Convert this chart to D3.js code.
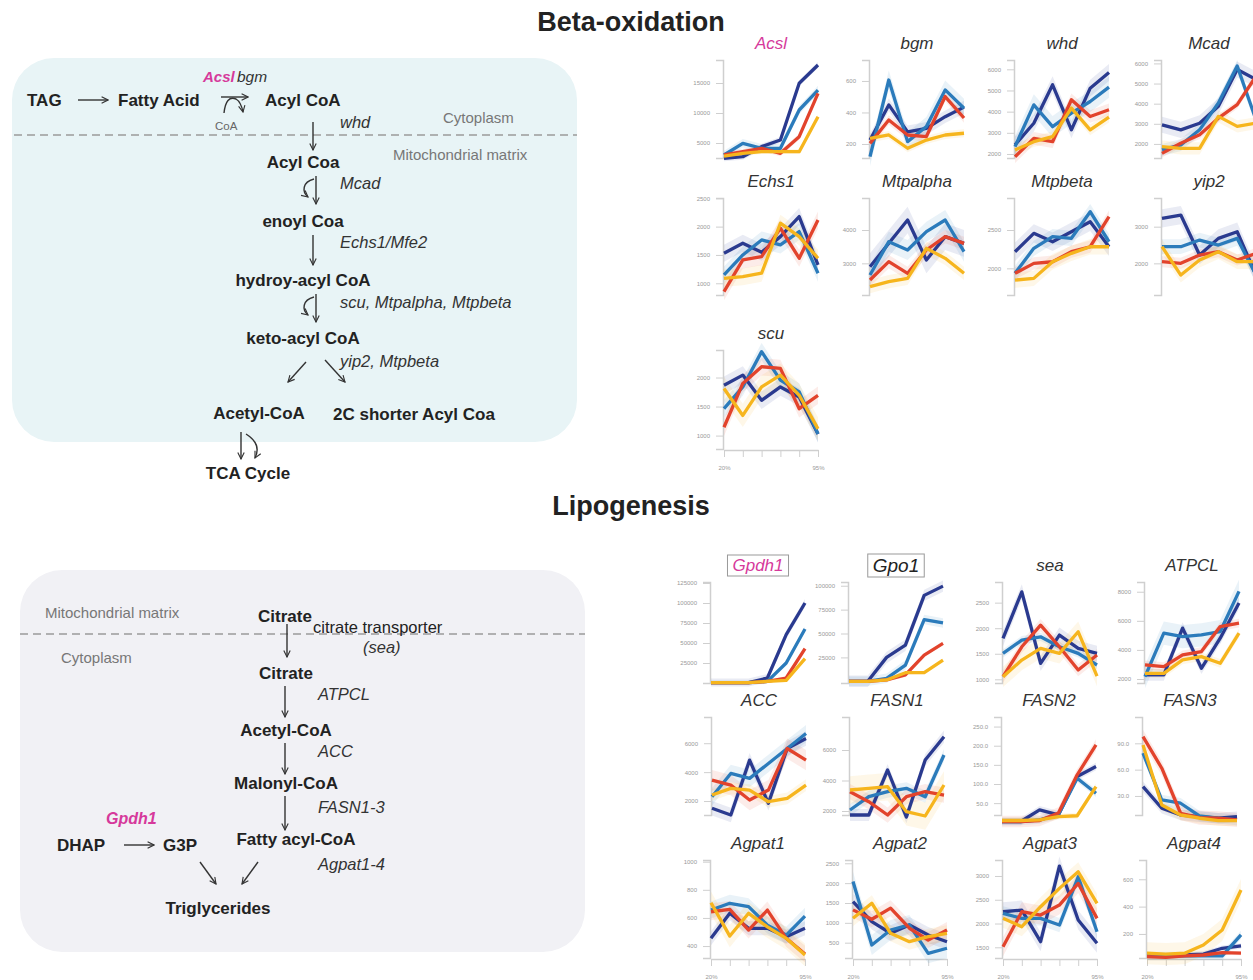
<!DOCTYPE html>
<html>
<head>
<meta charset="utf-8">
<script src="https://cdn.jsdelivr.net/npm/d3@7"></script>
<style>
  body { margin: 0; background: #fff; }
  svg text { font-family: "Liberation Sans", Arial, sans-serif; }
</style>
</head>
<body>
<div id="chart"></div>
<script>
// x categories (dose) and the four groups, colour per group
var doses = ['20%', '35%', '50%', '65%', '80%', '95%'];
var groups = ['g1', 'g2', 'g3', 'g4'];
var groupColors = ['#2a3a8f', '#2b7bbb', '#e2432c', '#f6b51d'];

// each gene: rows = groups g1..g4, columns = doses
var Acsl = [[2450, 2720, 4390, 5500, 14950, 18000], [3000, 4950, 4120, 4120, 10500, 13830], [3000, 3550, 4120, 3280, 6050, 13280], [2830, 3280, 3550, 3550, 3550, 9380]];
var bgm = [[225, 448, 277, 299, 373, 434], [120, 606, 215, 311, 543, 427], [204, 352, 257, 247, 501, 365], [236, 257, 173, 225, 257, 268]];
var whd = [[2430, 3450, 5270, 3140, 5110, 5850], [2350, 4320, 3290, 3930, 4480, 5160], [1870, 2740, 2580, 4560, 3770, 4090], [2190, 2580, 2820, 4170, 3140, 3740]];
var Mcad = [[2950, 2700, 3030, 3870, 5700, 5200], [1700, 1950, 2700, 4030, 5870, 3200], [1530, 2030, 2450, 3280, 3950, 5370], [1870, 1780, 1780, 3370, 2870, 3030]];
var Echs1 = [[1530, 1707, 1548, 1823, 2177, 1323], [1147, 1500, 1765, 1677, 1912, 1177], [852, 1412, 1470, 1972, 1442, 2118], [1088, 1117, 1177, 2060, 1823, 1442]];
var Mtpalpha = [[2900, 3600, 4300, 3100, 3800, 3600], [2650, 3650, 3400, 3950, 4300, 3350], [2500, 3050, 2700, 3400, 3800, 3600], [2300, 2450, 2550, 3450, 3150, 2700]];
var Mtpbeta = [[2217, 2457, 2347, 2478, 2608, 2282], [1935, 2261, 2413, 2392, 2739, 2347], [1935, 2065, 2086, 2217, 2282, 2674], [1847, 1869, 2086, 2196, 2282, 2282]];
var yip2 = [[3226, 3317, 2227, 2681, 2862, 1681], [2454, 2454, 2635, 2499, 2681, 1681], [2045, 2000, 2227, 2317, 2090, 2272], [2454, 1681, 2090, 2317, 2045, 2045]];
var scu = [[1868, 2042, 1608, 1838, 1665, 1029], [1463, 1838, 2446, 1955, 1752, 1029], [1144, 1898, 2186, 2158, 1463, 1694], [1810, 1347, 1838, 2042, 1694, 1116]];
var Gpdh1 = [[500, 500, 500, 6250, 60400, 100000], [500, 500, 500, 2000, 25000, 67500], [500, 500, 500, 2000, 6250, 42900], [500, 500, 500, 2000, 3300, 30400]];
var Gpo1 = [[0, 0, 25000, 37800, 89900, 99600], [0, 0, 3100, 17000, 64600, 61000], [0, 0, 1400, 6600, 27400, 39600], [0, 0, 1400, 8960, 8960, 22190]];
var sea = [[1801, 2711, 1313, 1865, 1605, 1508], [1508, 1768, 1832, 1637, 1508, 1280], [1051, 1637, 2060, 1637, 1182, 1475], [1051, 1377, 1605, 1508, 1930, 1064]];
var ATPCL = [[2276, 2276, 5497, 2738, 4807, 7221], [2161, 5152, 4917, 5035, 5262, 8021], [2966, 2851, 3655, 3886, 5607, 5841], [2391, 2391, 3310, 3540, 3081, 5152]];
var ACC = [[1497, 1034, 4828, 1841, 5634, 6324], [2297, 3910, 3566, 4600, 5634, 6669], [3448, 3103, 2069, 2759, 5634, 4828], [2414, 2876, 2759, 1952, 2186, 3103]];
var FASN1 = [[1738, 1738, 4689, 1600, 5344, 6872], [2066, 2938, 3266, 3488, 2938, 5672], [3266, 2610, 1738, 2938, 3266, 3049], [3377, 3488, 3593, 1956, 1672, 3705]];
var FASN2 = [[2, 2, 32.5, 19.5, 119.5, 145.6], [2, 2, 6.4, 19.5, 115, 76], [2, 2, 4.6, 24, 124, 202], [4.6, 4.6, 6.4, 15, 17, 93]];
var FASN3 = [[40.6, 16, 8.3, 6.4, 4.6, 6.4], [78.7, 25.4, 21.7, 7.2, 4.6, 2.6], [97.6, 61.6, 10.3, 5.3, 4.6, 2.6], [88, 19.7, 8.3, 4.6, 1.8, 1.8]];
var Agpat1 = [[455, 633, 526, 526, 466, 526], [656, 704, 680, 549, 478, 613], [644, 661, 514, 656, 455, 343], [708, 471, 633, 537, 455, 336]];
var Agpat2 = [[1535, 1030, 737, 947, 694, 525], [2040, 442, 820, 947, 232, 359], [1326, 1091, 1369, 864, 568, 821], [1116, 1495, 737, 525, 652, 737]];
var Agpat3 = [[2248, 2283, 1618, 3207, 2073, 1584], [2214, 2109, 2109, 1968, 2983, 1828], [1513, 2248, 2178, 2388, 2844, 2109], [2109, 1933, 2353, 2739, 3088, 2424]];
var Agpat4 = [[39, 39, 46, 53, 95, 112], [39, 39, 39, 39, 39, 193], [34, 29, 39, 46, 63, 59], [59, 53, 59, 119, 229, 522]];

// half-width of the shaded band, per group
var AcslSd = [500, 700, 500, 400], bgmSd = [40, 60, 30, 25], whdSd = [400, 500, 300, 250], McadSd = [400, 300, 200, 300];
var Echs1Sd = [150, 150, 150, 150], MtpalphaSd = [400, 300, 200, 200], MtpbetaSd = [120, 100, 80, 100], yip2Sd = [250, 200, 150, 200];
var scuSd = [150, 150, 150, 200], Gpdh1Sd = [5000, 3000, 2000, 1500], Gpo1Sd = [6000, 5000, 2000, 1500], seaSd = [150, 80, 120, 200];
var ATPCLSd = [400, 800, 300, 300], ACCSd = [500, 600, 700, 400], FASN1Sd = [400, 400, 500, 900], FASN2Sd = [10, 10, 15, 8];
var FASN3Sd = [6, 6, 8, 6], Agpat1Sd = [50, 60, 60, 80], Agpat2Sd = [200, 250, 200, 200], Agpat3Sd = [200, 150, 200, 200], Agpat4Sd = [20, 30, 15, 80];

// y tick labels per panel
var AcslTicks = [5000, 10000, 15000], bgmTicks = [200, 400, 600], whdTicks = [2000, 3000, 4000, 5000, 6000], McadTicks = [2000, 3000, 4000, 5000, 6000];
var Echs1Ticks = [1000, 1500, 2000, 2500], MtpalphaTicks = [3000, 4000], MtpbetaTicks = [2000, 2500], yip2Ticks = [2000, 3000];
var scuTicks = [1000, 1500, 2000], Gpdh1Ticks = [25000, 50000, 75000, 100000, 125000], Gpo1Ticks = [25000, 50000, 75000, 100000];
var seaTicks = [1000, 1500, 2000, 2500], ATPCLTicks = [2000, 4000, 6000, 8000], ACCTicks = [2000, 4000, 6000], FASN1Ticks = [2000, 4000, 6000];
var FASN2Ticks = [50, 100, 150, 200, 250], FASN3Ticks = [30, 60, 90], Agpat1Ticks = [400, 600, 800, 1000];
var Agpat2Ticks = [500, 1000, 1500, 2000, 2500], Agpat3Ticks = [1500, 2000, 2500, 3000], Agpat4Ticks = [200, 400, 600];

var W = 1253, H = 980;
var svg = d3.select('#chart').append('svg')
  .attr('width', W).attr('height', H)
  .attr('viewBox', '0 0 ' + W + ' ' + H);

var defs = svg.append('defs');
defs.append('marker')
  .attr('id', 'head')
  .attr('viewBox', '0 0 10 10')
  .attr('refX', 9).attr('refY', 5)
  .attr('markerUnits', 'userSpaceOnUse')
  .attr('markerWidth', 8).attr('markerHeight', 8)
  .attr('orient', 'auto')
  .append('path')
  .attr('d', 'M1,1 L9,5 L1,9')
  .attr('fill', 'none').attr('stroke', '#333').attr('stroke-width', 1.4);

// ---------- section titles ----------
svg.append('text').attr('x', 631).attr('y', 31).attr('text-anchor', 'middle')
  .style('font-size', '27px').style('font-weight', 'bold').attr('fill', '#222').text('Beta-oxidation');
svg.append('text').attr('x', 631).attr('y', 515).attr('text-anchor', 'middle')
  .style('font-size', '27px').style('font-weight', 'bold').attr('fill', '#222').text('Lipogenesis');

// ---------- pathway diagrams ----------
var diag = svg.append('g');
diag.append('rect').attr('x', 12).attr('y', 58).attr('width', 565).attr('height', 384).attr('rx', 42).attr('fill', '#e8f4f6');
diag.append('rect').attr('x', 20).attr('y', 570).attr('width', 565).attr('height', 382).attr('rx', 42).attr('fill', '#f1f1f5');

diag.append('line').attr('x1', 14).attr('x2', 577).attr('y1', 135).attr('y2', 135)
  .attr('stroke', '#9a9a9a').attr('stroke-width', 1.5).attr('stroke-dasharray', '8,5');
diag.append('line').attr('x1', 20).attr('x2', 585).attr('y1', 634).attr('y2', 634)
  .attr('stroke', '#9a9a9a').attr('stroke-width', 1.5).attr('stroke-dasharray', '8,5');

function label(x, y, txt, o) {
  o = o || {};
  diag.append('text').attr('x', x).attr('y', y)
    .attr('text-anchor', o.anchor || 'start')
    .attr('fill', o.color || '#222')
    .style('font-size', (o.size || 17) + 'px')
    .style('font-weight', o.bold ? 'bold' : 'normal')
    .style('font-style', o.italic ? 'italic' : 'normal')
    .text(txt);
}
var B = {bold: true}, BC = {bold: true, anchor: 'middle'}, I = {italic: true, color: '#333', size: 16.5}, G = {color: '#777', size: 15};

// beta-oxidation pathway
label(27, 106, 'TAG', B);
label(118, 106, 'Fatty Acid', B);
label(265, 106, 'Acyl CoA', B);
label(203, 82, 'Acsl', {bold: true, italic: true, color: '#d6399b', size: 15});
label(237, 82, 'bgm', {italic: true, color: '#333', size: 15.5});
label(215, 130, 'CoA', {color: '#666', size: 11.5});
label(340, 128, 'whd', I);
label(443, 123, 'Cytoplasm', G);
label(393, 160, 'Mitochondrial matrix', G);
label(303, 168, 'Acyl Coa', BC);
label(340, 189, 'Mcad', I);
label(303, 227, 'enoyl Coa', BC);
label(340, 248, 'Echs1/Mfe2', I);
label(303, 286, 'hydroy-acyl CoA', BC);
label(340, 308, 'scu, Mtpalpha, Mtpbeta', I);
label(303, 344, 'keto-acyl CoA', BC);
label(340, 367, 'yip2, Mtpbeta', I);
label(259, 419, 'Acetyl-CoA', BC);
label(333, 420, '2C shorter Acyl Coa', B);
label(248, 479, 'TCA Cycle', BC);

// lipogenesis pathway
label(45, 618, 'Mitochondrial matrix', G);
label(258, 622, 'Citrate', B);
label(313, 633, 'citrate transporter', {color: '#222', size: 16.5});
label(363, 653, '(sea)', I);
label(61, 663, 'Cytoplasm', G);
label(286, 679, 'Citrate', BC);
label(318, 700, 'ATPCL', I);
label(286, 736, 'Acetyl-CoA', BC);
label(318, 757, 'ACC', I);
label(286, 789, 'Malonyl-CoA', BC);
label(318, 813, 'FASN1-3', I);
label(296, 845, 'Fatty acyl-CoA', BC);
label(318, 870, 'Agpat1-4', I);
label(106, 824, 'Gpdh1', {bold: true, italic: true, color: '#d6399b', size: 16});
label(57, 851, 'DHAP', B);
label(163, 851, 'G3P', B);
label(218, 914, 'Triglycerides', BC);

var arrows = [
  'M78,100 H108', 'M221,97 H248', 'M224,113 Q226,95 236,99 Q241,102 243,112',
  'M313,122 V150',
  'M316,176 V204', 'M314,179 C302,182 302,192 308,197',
  'M313,235 V265',
  'M316,294 V322', 'M314,297 C302,300 302,310 308,315',
  'M306,362 L288,382', 'M325,360 L345,382',
  'M241,432 V459', 'M246,434 Q262,444 255,458',
  'M287,624 V657', 'M285,686 V717', 'M285,743 V774', 'M285,796 V830',
  'M124,845 H154', 'M200,862 L216,884', 'M258,862 L242,884'
];
diag.selectAll('path.arrow').data(arrows).enter().append('path')
  .attr('class', 'arrow').attr('d', function(d) { return d; })
  .attr('fill', 'none').attr('stroke', '#333').attr('stroke-width', 1.4)
  .attr('marker-end', 'url(#head)');

// ---------- small multiples ----------
var fmt0 = d3.format('d'), fmt1 = d3.format('.1f');
var panels = [
  {name: 'Acsl', data: Acsl, sd: AcslSd, ticks: AcslTicks, domain: [2500, 18833], x: 724, top: 60, bottom: 158, pink: true},
  {name: 'bgm', data: bgm, sd: bgmSd, ticks: bgmTicks, domain: [111, 733], x: 870, top: 60, bottom: 158},
  {name: 'whd', data: whd, sd: whdSd, ticks: whdTicks, domain: [1810, 6440], x: 1015, top: 60, bottom: 158},
  {name: 'Mcad', data: Mcad, sd: McadSd, ticks: McadTicks, domain: [1300, 6170], x: 1162, top: 60, bottom: 158},
  {name: 'Echs1', data: Echs1, sd: Echs1Sd, ticks: Echs1Ticks, domain: [793, 2505], x: 724, top: 198, bottom: 295},
  {name: 'Mtpalpha', data: Mtpalpha, sd: MtpalphaSd, ticks: MtpalphaTicks, domain: [2050, 4960], x: 870, top: 198, bottom: 295},
  {name: 'Mtpbeta', data: Mtpbeta, sd: MtpbetaSd, ticks: MtpbetaTicks, domain: [1652, 2918], x: 1015, top: 198, bottom: 295},
  {name: 'yip2', data: yip2, sd: yip2Sd, ticks: yip2Ticks, domain: [1137, 3782], x: 1162, top: 198, bottom: 295},
  {name: 'scu', data: scu, sd: scuSd, ticks: scuTicks, domain: [769, 2474], x: 724, top: 350, bottom: 449, xaxis: true},
  {name: 'Gpdh1', data: Gpdh1, sd: Gpdh1Sd, ticks: Gpdh1Ticks, domain: [0, 126250], x: 711, top: 582, bottom: 683, pink: true, box: true},
  {name: 'Gpo1', data: Gpo1, sd: Gpo1Sd, ticks: Gpo1Ticks, domain: [-1800, 103900], x: 849, top: 582, bottom: 683, box: true, big: true},
  {name: 'sea', data: sea, sd: seaSd, ticks: seaTicks, domain: [928, 2904], x: 1003, top: 582, bottom: 683},
  {name: 'ATPCL', data: ATPCL, sd: ATPCLSd, ticks: ATPCLTicks, domain: [1724, 8669], x: 1145, top: 582, bottom: 683},
  {name: 'ACC', data: ACC, sd: ACCSd, ticks: ACCTicks, domain: [1034, 7814], x: 712, top: 717, bottom: 815},
  {name: 'FASN1', data: FASN1, sd: FASN1Sd, ticks: FASN1Ticks, domain: [1738, 8164], x: 850, top: 717, bottom: 815},
  {name: 'FASN2', data: FASN2, sd: FASN2Sd, ticks: FASN2Ticks, domain: [19, 275], x: 1002, top: 717, bottom: 815, dec: true},
  {name: 'FASN3', data: FASN3, sd: FASN3Sd, ticks: FASN3Ticks, domain: [8.3, 120], x: 1143, top: 717, bottom: 815, dec: true},
  {name: 'Agpat1', data: Agpat1, sd: Agpat1Sd, ticks: Agpat1Ticks, domain: [315, 1012], x: 711, top: 860, bottom: 958, xaxis: true},
  {name: 'Agpat2', data: Agpat2, sd: Agpat2Sd, ticks: Agpat2Ticks, domain: [114, 2583], x: 853, top: 860, bottom: 958, xaxis: true},
  {name: 'Agpat3', data: Agpat3, sd: Agpat3Sd, ticks: Agpat3Ticks, domain: [1275, 3336], x: 1003, top: 860, bottom: 958, xaxis: true},
  {name: 'Agpat4', data: Agpat4, sd: Agpat4Sd, ticks: Agpat4Ticks, domain: [24, 741], x: 1147, top: 860, bottom: 958, xaxis: true}
];

var pw = 94;

panels.forEach(function(p) {
  var g = svg.append('g').attr('class', 'panel');
  var x = d3.scalePoint().domain(doses).range([p.x, p.x + pw]);
  var y = d3.scaleLinear().domain(p.domain).range([p.bottom, p.top]);

  // y axis
  var ya = g.append('g').attr('transform', 'translate(' + (p.x - 1) + ',0)')
    .call(d3.axisLeft(y).tickValues(p.ticks).tickSizeOuter(0).tickSize(7).tickPadding(6)
      .tickFormat(p.dec ? fmt1 : fmt0));
  ya.select('.domain').attr('stroke', '#cfcfcf').attr('stroke-width', 1.5);
  ya.selectAll('.tick line').attr('stroke', '#cfcfcf');
  ya.selectAll('.tick text').attr('fill', '#999').style('font-size', '6px');

  // x axis on last row
  if (p.xaxis) {
    var xa = g.append('g').attr('transform', 'translate(0,' + (p.bottom + 1) + ')')
      .call(d3.axisBottom(x).tickSize(7).tickPadding(9).tickSizeOuter(0)
        .tickFormat(function(d, i) { return (i === 0 || i === doses.length - 1) ? d : ''; }));
    xa.select('.domain').attr('stroke', '#cfcfcf').attr('stroke-width', 1.5);
    xa.selectAll('.tick line').attr('stroke', '#cfcfcf');
    xa.selectAll('.tick text').attr('fill', '#999').style('font-size', '6px');
  }

  var area = d3.area()
    .x(function(d, i) { return x(doses[i]); })
    .y0(function(d) { return y(d[0]); })
    .y1(function(d) { return y(d[1]); });
  var line = d3.line()
    .x(function(d, i) { return x(doses[i]); })
    .y(function(d) { return y(d); });

  groups.forEach(function(gr, k) {
    var vals = p.data[k];
    g.append('path')
      .datum(vals.map(function(v) { return [v - p.sd[k], v + p.sd[k]]; }))
      .attr('d', area)
      .attr('fill', groupColors[k]).attr('fill-opacity', 0.1);
  });
  groups.forEach(function(gr, k) {
    g.append('path')
      .datum(p.data[k])
      .attr('d', line)
      .attr('fill', 'none')
      .attr('stroke', groupColors[k])
      .attr('stroke-width', 3.3)
      .attr('stroke-linejoin', 'round');
  });

  // panel title
  var cx = p.x + pw / 2;
  var t = g.append('text').attr('x', cx).attr('y', p.top - (p.big ? 10 : 11))
    .attr('text-anchor', 'middle')
    .style('font-size', p.big ? '19px' : '17px').style('font-style', 'italic')
    .attr('fill', p.pink ? '#d6399b' : (p.big ? '#222' : '#333'))
    .text(p.name);
  if (p.box) {
    var bb = t.node().getBBox();
    g.insert('rect', function() { return t.node(); })
      .attr('x', bb.x - 5).attr('y', bb.y - 1)
      .attr('width', bb.width + 10).attr('height', bb.height + 2)
      .attr('fill', '#fff').attr('stroke', '#999').attr('stroke-width', 1);
  }
});
</script>
</body>
</html>
